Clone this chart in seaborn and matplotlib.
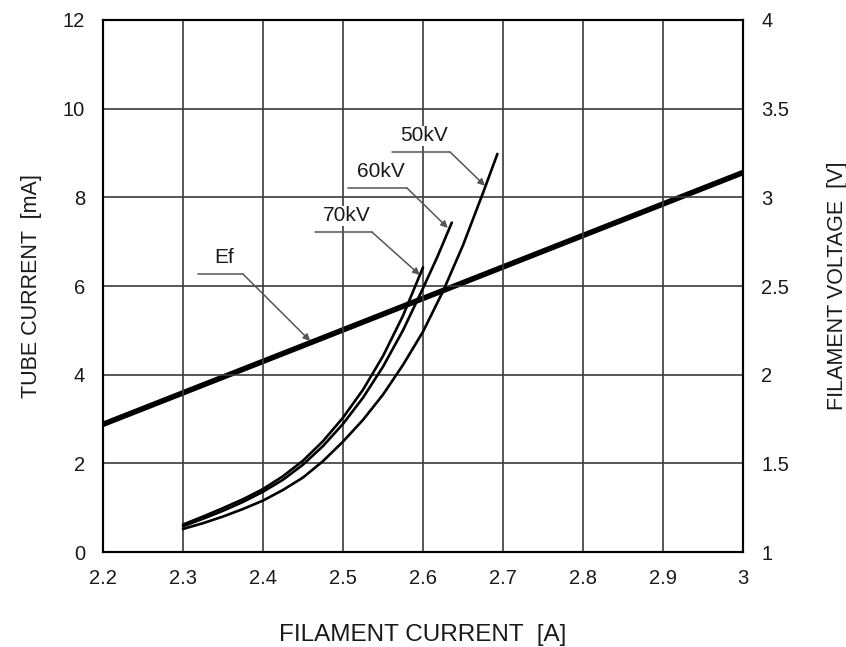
import numpy as np
import pandas as pd
import matplotlib
matplotlib.use("Agg")
import matplotlib.pyplot as plt
import seaborn as sns

# filament voltage line (right axis, V)
ef_current = [2.2, 2.4, 2.6, 2.8, 3.0]
ef_voltage = [1.72, 2.075, 2.43, 2.785, 3.14]

# tube current curves (left axis, mA)
kv70_if = [2.3, 2.325, 2.35, 2.375, 2.4, 2.425, 2.45, 2.475, 2.5, 2.525, 2.55, 2.575, 2.6]
kv70_ma = [0.62, 0.8, 0.99, 1.19, 1.42, 1.71, 2.06, 2.5, 3.03, 3.66, 4.42, 5.33, 6.42]

kv60_if = [2.3, 2.325, 2.35, 2.375, 2.4, 2.425, 2.45, 2.475, 2.5, 2.525, 2.55, 2.575, 2.6, 2.618, 2.636]
kv60_ma = [0.58, 0.75, 0.93, 1.13, 1.36, 1.63, 1.97, 2.39, 2.89, 3.48, 4.18, 5.0, 5.95, 6.66, 7.43]

kv50_if = [2.3, 2.325, 2.35, 2.375, 2.4, 2.425, 2.45, 2.475, 2.5, 2.525, 2.55, 2.575, 2.6, 2.625, 2.65, 2.675, 2.693]
kv50_ma = [0.52, 0.65, 0.8, 0.97, 1.16, 1.4, 1.68, 2.05, 2.49, 2.98, 3.55, 4.22, 4.97, 5.88, 6.92, 8.1, 8.98]

sns.set_style("white")
plt.rcParams['font.family'] = ['Liberation Sans', 'DejaVu Sans']

fig = plt.figure(figsize=(8.46, 6.47), dpi=100)
ax = fig.add_axes([0.1217, 0.1468, 0.7566, 0.8223])
ax2 = ax.twinx()

curves = pd.concat([
    pd.DataFrame({"if": kv70_if, "ma": kv70_ma, "kv": "70kV"}),
    pd.DataFrame({"if": kv60_if, "ma": kv60_ma, "kv": "60kV"}),
    pd.DataFrame({"if": kv50_if, "ma": kv50_ma, "kv": "50kV"}),
])
sns.lineplot(data=curves, x="if", y="ma", units="kv", estimator=None, sort=False,
             color="black", lw=1.9, ax=ax, legend=False)

ef = pd.DataFrame({"if": ef_current, "v": ef_voltage})
sns.lineplot(data=ef, x="if", y="v", color="black", lw=4, ax=ax2, legend=False)

ax.set_xlim(2.2, 3.0)
ax.set_ylim(0, 12)
ax2.set_ylim(1, 4)
ax.set_xticks(np.arange(2.2, 3.01, 0.1))
ax.set_xticklabels(["2.2", "2.3", "2.4", "2.5", "2.6", "2.7", "2.8", "2.9", "3"])
ax.set_yticks(range(0, 13, 2))
ax2.set_yticks([1, 1.5, 2, 2.5, 3, 3.5, 4])
ax2.set_yticklabels(["1", "1.5", "2", "2.5", "3", "3.5", "4"])

ax.grid(True, color="#3a3a3a", lw=1.2)
ax.set_axisbelow(True)
for a in (ax, ax2):
    for s in a.spines.values():
        s.set_color("black")
        s.set_linewidth(1.5)
    a.tick_params(length=0, labelsize=14.5, colors="#1a1a1a")
ax.tick_params(axis="x", pad=12)
ax.tick_params(axis="y", pad=13)
ax2.tick_params(axis="y", pad=13)

ax.set_xlabel("FILAMENT CURRENT  [A]", fontsize=17.5, labelpad=26, color="#1a1a1a")
ax.set_ylabel("TUBE CURRENT  [mA]", fontsize=15.5, labelpad=15, color="#1a1a1a")
ax2.set_ylabel("FILAMENT VOLTAGE  [V]", fontsize=15.5, labelpad=27, color="#1a1a1a")

# callouts: label, underline start/end, arrow tip (left axis data coords)
callouts = [
    ("50kV", (2.561, 9.02), (2.634, 9.02), (2.6775, 8.26)),
    ("60kV", (2.506, 8.21), (2.580, 8.21), (2.631, 7.31)),
    ("70kV", (2.465, 7.22), (2.536, 7.22), (2.596, 6.25)),
    ("Ef", (2.319, 6.27), (2.375, 6.27), (2.459, 4.76)),
]
for label, p0, p1, tip in callouts:
    ax.plot([p0[0], p1[0]], [p0[1], p1[1]], color="#555555", lw=1.1, zorder=5)
    ax.annotate("", xy=tip, xytext=p1,
                arrowprops=dict(arrowstyle="-|>", color="#555555", lw=1.1,
                                mutation_scale=10, shrinkA=0, shrinkB=0), zorder=5)
    ax.text((p0[0] + p1[0]) / 2 + 0.004, p0[1] + 0.15, label, ha="center", va="bottom",
            fontsize=15, color="#1a1a1a", zorder=6,
            bbox=dict(facecolor="white", edgecolor="none", pad=0.5))

ax.set_zorder(ax2.get_zorder() + 1)
ax.patch.set_visible(False)

fig.savefig("out.png", dpi=100)
